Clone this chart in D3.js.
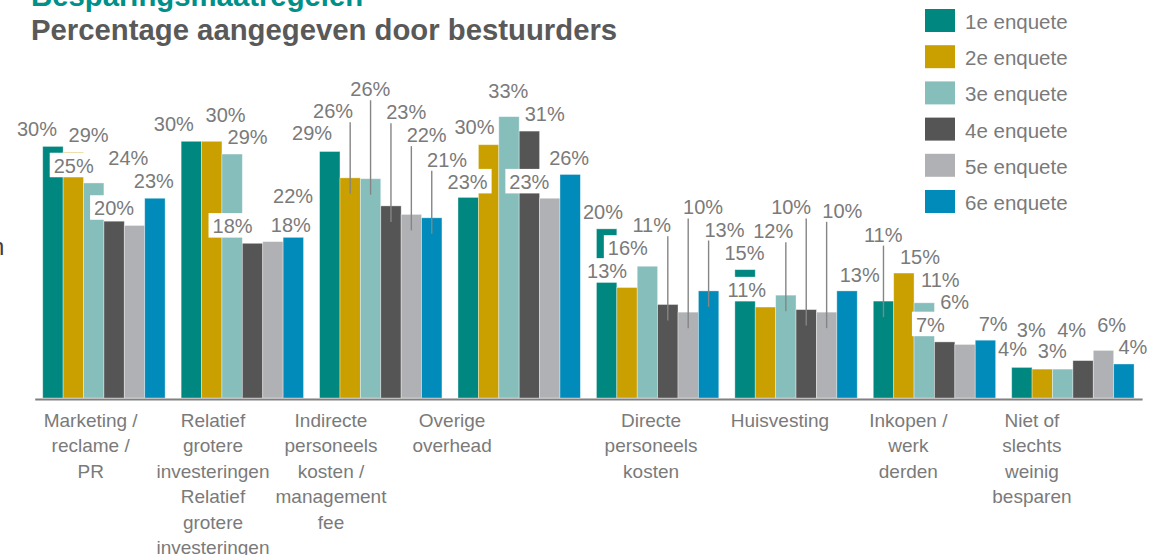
<!DOCTYPE html>
<html>
<head>
<meta charset="utf-8">
<script src="https://cdn.jsdelivr.net/npm/d3@7/dist/d3.min.js"></script>
<style>
  body { margin: 0; background: #fff; }
  svg { display: block; font-family: "Liberation Sans", Arial, sans-serif; }
</style>
</head>
<body>
<svg id="chart" width="1149" height="555"></svg>
<script>
// categories (line breaks as in the picture)
const categories = [
  "Marketing /\nreclame /\nPR",
  "Relatief\ngrotere\ninvesteringen\nRelatief\ngrotere\ninvesteringen",
  "Indirecte\npersoneels\nkosten /\nmanagement\nfee",
  "Overige\noverhead",
  "Directe\npersoneels\nkosten",
  "Huisvesting",
  "Inkopen /\nwerk\nderden",
  "Niet of\nslechts\nweinig\nbesparen"
];
const series = ["1e enquete", "2e enquete", "3e enquete", "4e enquete", "5e enquete", "6e enquete"];
const colors = ["#00877f", "#c9a000", "#86bebc", "#555555", "#b0b1b4", "#008bbb"];

// bar heights (%)
const enq1 = [29.6, 30.2, 29.0, 23.6, 19.9, 15.1, 11.4, 3.6];
const enq2 = [28.9, 30.2, 25.9, 29.8, 13.0, 10.7, 14.7, 3.4];
const enq3 = [25.3, 28.7, 25.8, 33.1, 15.5, 12.1, 11.2, 3.4];
const enq4 = [20.8, 18.2, 22.6, 31.4, 11.0, 10.4, 6.6, 4.4];
const enq5 = [20.3, 18.4, 21.6, 23.5, 10.1, 10.1, 6.3, 5.6];
const enq6 = [23.5, 18.9, 21.2, 26.3, 12.6, 12.6, 6.8, 4.0];
const values = [enq1, enq2, enq3, enq4, enq5, enq6];

// printed data labels
const lab1 = ["30%", "30%", "29%", "23%", "20%", "15%", "11%", "4%"];
const lab2 = ["29%", "30%", "26%", "30%", "13%", "11%", "15%", "3%"];
const lab3 = ["25%", "29%", "26%", "33%", "16%", "12%", "11%", "3%"];
const lab4 = ["20%", "18%", "23%", "31%", "11%", "10%", "7%", "4%"];
const lab5 = ["24%", "22%", "22%", "23%", "10%", "10%", "6%", "6%"];
const lab6 = ["23%", "18%", "21%", "26%", "13%", "13%", "7%", "4%"];
const labels = [lab1, lab2, lab3, lab4, lab5, lab6];

// where each label sits: horizontal in bar slots from group start, vertical in % units
const labelSlot = [
  [-0.28, -0.36, -0.37, 0.47, 0.32, 0.47, 0.49, 0.04],
  [2.25, 2.18, 0.66, 0.81, 0.52, 0.59, 2.29, 0.96],
  [1.52, 3.26, 2.49, 2.47, 1.54, 1.88, 3.29, 1.99],
  [3.5, 2.52, 4.25, 4.25, 2.71, 2.76, 2.8, 2.94],
  [4.2, 5.49, 5.25, 3.5, 5.23, 5.27, 3.99, 4.9],
  [5.45, 5.38, 6.25, 5.45, 6.28, 6.12, 5.88, 5.94]
];
const labelLevel = [
  [30.8, 31.4, 30.3, 24.6, 21.1, 16.2, 18.4, 4.9],
  [30.1, 32.5, 32.9, 31.1, 14.1, 11.9, 15.8, 7.2],
  [26.5, 29.9, 35.5, 35.3, 16.8, 18.8, 13.1, 4.7],
  [21.5, 19.4, 32.8, 32.6, 19.5, 21.6, 7.8, 7.2],
  [27.4, 22.9, 30.1, 24.6, 21.6, 21.2, 10.5, 7.8],
  [24.7, 19.5, 27.2, 27.4, 19.0, 13.7, 7.9, 5.2]
];
// labels with white background box, labels with leader line ("series-category")
const boxed = ["2-0", "3-0", "3-1", "0-3", "4-3", "1-4", "2-4", "1-5", "3-6"];
const leaders = ["1-2", "2-2", "3-2", "4-2", "5-2", "3-4", "4-4", "5-4", "2-5", "3-5", "4-5", "0-6"];
// category label centre, in bar slots from group start
const catLabelSlot = [2.35, 1.56, 0.56, -0.29, 2.68, 2.21, 1.72, 0.99];

const svg = d3.select("#chart");
const txtColor = "#7a7a7a";

const x0 = d3.scaleBand().domain(d3.range(categories.length))
  .range([34.7, 1142.1]).paddingInner(0.116).paddingOuter(0.058);
const x1 = d3.scaleBand().domain(d3.range(series.length)).range([0, x0.bandwidth()]);
const y = d3.scaleLinear().domain([0, 40]).range([398, 58]);
const slotX = (c, s) => x0(c) + s * x1.step();

// titles
svg.append("text").attr("x", 31).attr("y", 6)
  .attr("font-size", 29.3).attr("font-weight", "bold").attr("fill", "#00908a")
  .text("Besparingsmaatregelen");
svg.append("text").attr("x", 31).attr("y", 40)
  .attr("font-size", 29.3).attr("font-weight", "bold").attr("fill", "#595959")
  .text("Percentage aangegeven door bestuurders");

// cut-off letter on the left edge
svg.append("text").attr("x", -9).attr("y", 255)
  .attr("font-size", 24).attr("fill", "#404040").text("n");

// bars
const groups = svg.append("g").selectAll("g")
  .data(series)
  .join("g")
  .attr("fill", (d, i) => colors[i]);

groups.selectAll("rect")
  .data((d, i) => values[i].map((v, c) => ({ s: i, c: c, v: v })))
  .join("rect")
  .attr("x", d => x0(d.c) + x1(d.s))
  .attr("width", x1.bandwidth())
  .attr("y", d => y(d.v))
  .attr("height", d => y(0) - y(d.v))
  .attr("stroke", "#ffffff")
  .attr("stroke-opacity", 0.45)
  .attr("stroke-width", 0.8);

// axis
const axis = svg.append("g")
  .attr("transform", "translate(0," + (y(0) + 1) + ")")
  .call(d3.axisBottom(x0).tickSize(0).tickSizeOuter(0).tickFormat(""));
axis.select(".domain").attr("stroke", "#808080").attr("stroke-width", 2);

// category labels
const cat = svg.append("g").selectAll("text")
  .data(categories)
  .join("text")
  .attr("text-anchor", "middle")
  .attr("font-size", 19)
  .attr("fill", txtColor)
  .attr("transform", (d, i) => "translate(" + slotX(i, catLabelSlot[i]) + ",427)");
cat.selectAll("tspan")
  .data(d => d.split("\n"))
  .join("tspan")
  .attr("x", 0)
  .attr("y", (d, i) => i * 25.4)
  .text(d => d);

// data labels
const lbl = [];
series.forEach((s, i) => {
  categories.forEach((c, j) => {
    lbl.push({
      s: i, c: j, text: labels[i][j],
      x: slotX(j, labelSlot[i][j]),
      y: y(labelLevel[i][j]),
      box: boxed.includes(i + "-" + j),
      leader: leaders.includes(i + "-" + j)
    });
  });
});

const lg = svg.append("g");
// leader lines first, so labels sit on top
lg.selectAll("line")
  .data(lbl.filter(d => d.leader))
  .join("line")
  .attr("x1", d => x0(d.c) + x1(d.s) + x1.bandwidth() / 2)
  .attr("x2", d => x0(d.c) + x1(d.s) + x1.bandwidth() / 2)
  .attr("y1", d => d.y + 4)
  .attr("y2", d => y(values[d.s][d.c]) + 16)
  .attr("stroke", "#858585")
  .attr("stroke-width", 1.4);

const lt = lg.selectAll("g.lbl")
  .data(lbl)
  .join("g")
  .attr("class", "lbl");
lt.append("text")
  .attr("x", d => d.x)
  .attr("y", d => d.y)
  .attr("text-anchor", "middle")
  .attr("font-size", 20)
  .attr("fill", txtColor)
  .text(d => d.text);
lt.filter(d => d.box).each(function (d) {
  const t = d3.select(this).select("text");
  const w = t.node().getComputedTextLength();
  d3.select(this).insert("rect", "text")
    .attr("x", d.x - w / 2 - 4)
    .attr("width", w + 8)
    .attr("y", d.y - 20)
    .attr("height", 24.5)
    .attr("fill", "#ffffff");
});

// legend
const leg = svg.append("g").selectAll("g")
  .data(series)
  .join("g")
  .attr("transform", (d, i) => "translate(925," + (9 + i * 36.2) + ")");
leg.append("rect").attr("width", 30).attr("height", 23).attr("fill", (d, i) => colors[i]);
leg.append("text").attr("x", 40).attr("y", 20)
  .attr("font-size", 20.5).attr("fill", txtColor).text(d => d);
</script>
</body>
</html>
